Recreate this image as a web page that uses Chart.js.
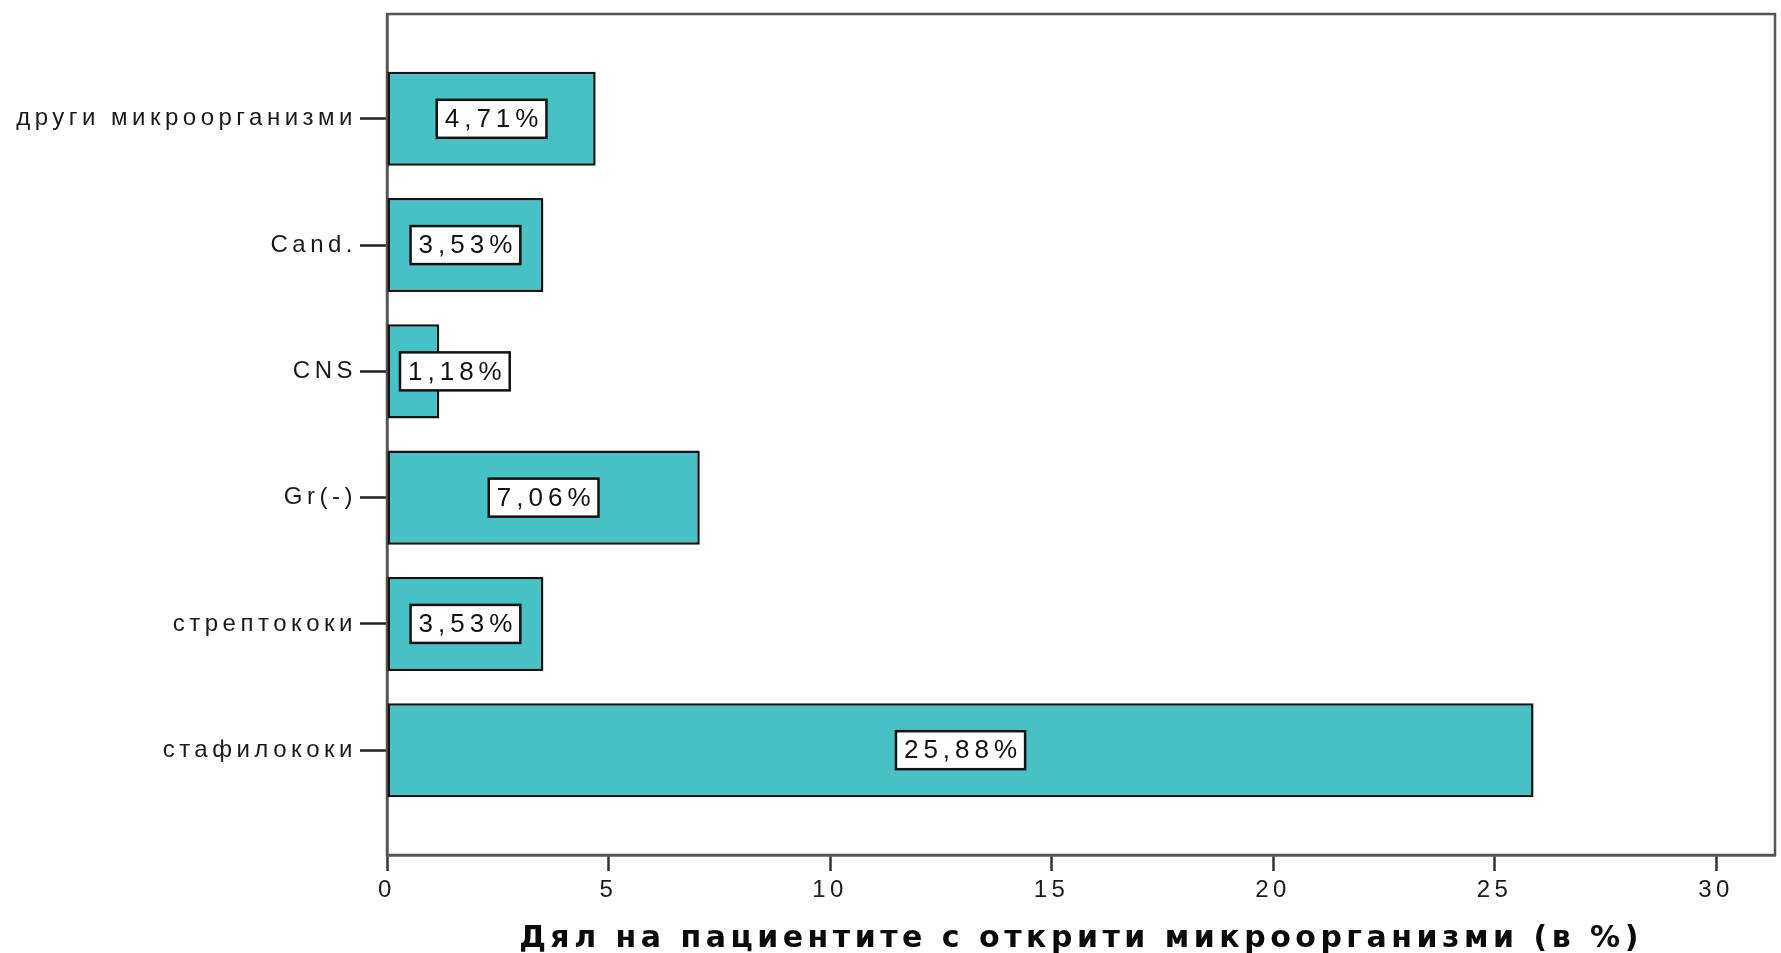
<!DOCTYPE html>
<html>
<head>
<meta charset="utf-8">
<script src="https://cdn.jsdelivr.net/npm/chart.js@4.4.1/dist/chart.umd.min.js"></script>
<style>
  html, body { margin: 0; padding: 0; background: #fff; }
  #wrap { width: 1781px; height: 953px; position: relative; }
</style>
</head>
<body>
<div id="wrap"><canvas id="microChart"></canvas></div>
<script>
// categories top to bottom, values in percent
const categories = ['други микроорганизми', 'Cand.', 'CNS', 'Gr(-)', 'стрептококи', 'стафилококи'];
const percentValues = [4.71, 3.53, 1.18, 7.06, 3.53, 25.88];
const xTicks = [0, 5, 10, 15, 20, 25, 30];
const xTitle = 'Дял на пациентите с открити микроорганизми (в %)';

function formatPct(v) {
  return v.toFixed(2).replace('.', ',') + '%';
}

// wide-set lettering for the axis texts
const spacingPlugin = {
  id: 'spacing',
  beforeLayout(chart) { chart.ctx.letterSpacing = '4.5px'; },
  beforeDraw(chart) { chart.ctx.letterSpacing = '4.5px'; }
};

// box around the plot area
const framePlugin = {
  id: 'frame',
  beforeDatasetsDraw(chart) {
    const { ctx, chartArea: a } = chart;
    ctx.save();
    ctx.strokeStyle = '#555';
    ctx.lineWidth = 2.5;
    ctx.strokeRect(a.left, a.top, a.right - a.left, a.bottom - a.top);
    ctx.restore();
  }
};

// white boxed value labels in the middle of each bar
const valueBoxPlugin = {
  id: 'valueBoxes',
  afterDatasetsDraw(chart) {
    const { ctx, chartArea } = chart;
    const meta = chart.getDatasetMeta(0);
    const ls = 5;
    ctx.save();
    ctx.letterSpacing = ls + 'px';
    ctx.font = '26px "Liberation Sans", Arial, sans-serif';
    ctx.textAlign = 'left';
    ctx.textBaseline = 'middle';
    meta.data.forEach((bar, i) => {
      const text = formatPct(percentValues[i]);
      const tw = ctx.measureText(text).width - ls;
      const bw = tw + 16, bh = 38;
      let left = (bar.x + bar.base) / 2 - bw / 2;
      left = Math.max(left, chartArea.left + 13);
      const top = bar.y - bh / 2;
      ctx.fillStyle = '#fff';
      ctx.fillRect(left, top, bw, bh);
      ctx.strokeStyle = '#111';
      ctx.lineWidth = 2.5;
      ctx.strokeRect(left, top, bw, bh);
      ctx.fillStyle = '#111';
      ctx.fillText(text, left + 8, bar.y + 1);
    });
    ctx.restore();
  }
};

const ctx = document.getElementById('microChart').getContext('2d');
new Chart(ctx, {
  type: 'bar',
  data: {
    datasets: [{
      data: percentValues.map((v, i) => ({ x: v, y: i })),
      backgroundColor: '#48C1C5',
      borderColor: '#141414',
      borderWidth: 2.5,
      borderSkipped: false,
      barPercentage: 0.745,
      categoryPercentage: 1
    }]
  },
  options: {
    indexAxis: 'y',
    responsive: true,
    maintainAspectRatio: false,
    animation: false,
    layout: { padding: { top: 14, right: 6, left: 0, bottom: 0 } },
    plugins: {
      legend: { display: false },
      tooltip: { enabled: false }
    },
    scales: {
      x: {
        type: 'linear',
        min: 0,
        max: 31.33,
        afterBuildTicks: s => { s.ticks = xTicks.map(v => ({ value: v })); },
        afterFit: s => { s.height = 98; s.paddingLeft = 0; s.paddingRight = 0; },
        grid: { drawOnChartArea: false, drawTicks: true, tickLength: 16, tickWidth: 2.5, tickColor: '#333' },
        border: { display: true, color: '#222', width: 2.5 },
        ticks: {
          color: '#1a1a1a',
          font: { family: '"Liberation Sans", Arial, sans-serif', size: 24 },
          padding: 5,
          maxRotation: 0
        },
        title: {
          display: true,
          text: xTitle,
          color: '#0a0a0a',
          font: { family: '"DejaVu Sans", sans-serif', size: 30, weight: 'bold' },
          padding: { top: 0, bottom: -4 }
        }
      },
      y: {
        type: 'linear',
        reverse: true,
        offset: false,
        min: -0.83,
        max: 5.83,
        afterBuildTicks: s => { s.ticks = categories.map((c, i) => ({ value: i })); },
        afterFit: s => { s.width = 387; s.paddingTop = 0; s.paddingBottom = 0; },
        grid: { offset: false, drawOnChartArea: false, drawTicks: true, tickLength: 27, tickWidth: 2.5, tickColor: '#222' },
        border: { display: true, color: '#222', width: 2.5 },
        ticks: {
          callback: v => categories[v],
          color: '#1a1a1a',
          font: { family: '"Liberation Sans", Arial, sans-serif', size: 24 },
          padding: 3
        }
      }
    }
  },
  plugins: [spacingPlugin, framePlugin, valueBoxPlugin]
});
</script>
</body>
</html>
